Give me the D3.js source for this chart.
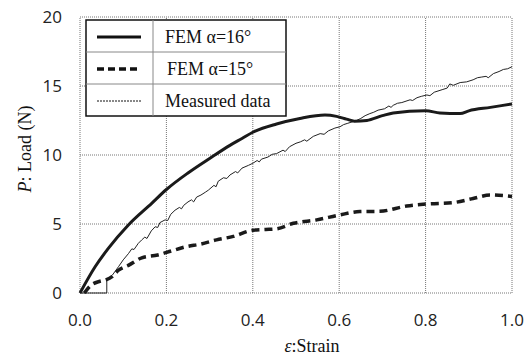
<!DOCTYPE html>
<html>
<head>
<meta charset="utf-8">
<script src="https://cdn.jsdelivr.net/npm/d3@7"></script>
<style>
  body { margin: 0; background: #fff; }
  .tick-label { font-family: "Open Sans", sans-serif; font-size: 17px; fill: #222; }
  .serif { font-family: "Liberation Serif", "DejaVu Serif", serif; fill: #111; }
</style>
</head>
<body>
<div id="chart"></div>
<script>
// tick values
const xTicks = [0, 0.2, 0.4, 0.6, 0.8, 1.0];
const yTicks = [0, 5, 10, 15, 20];

// series: [strain, load]
const fem16 = [[0,0],[0.035,1.9],[0.066,3.25],[0.112,4.93],[0.166,6.5],[0.2,7.5],
  [0.25,8.7],[0.3,9.75],[0.347,10.7],[0.375,11.2],[0.4,11.65],[0.455,12.25],[0.509,12.65],[0.567,12.9],
  [0.594,12.8],[0.617,12.6],[0.635,12.45],[0.664,12.5],[0.7,12.85],[0.725,13.05],[0.8,13.2],[0.833,13.05],
  [0.88,13.0],[0.9,13.2],[0.95,13.45],[1.0,13.7]];

const fem15 = [[0.01,0],[0.025,0.55],[0.046,0.85],[0.06,0.95],[0.075,1.2],[0.089,1.65],[0.112,2.0],
  [0.143,2.55],[0.18,2.75],[0.212,3.05],[0.245,3.35],[0.28,3.55],[0.316,3.85],[0.355,4.1],[0.4,4.55],
  [0.43,4.6],[0.455,4.65],[0.494,5.05],[0.548,5.3],[0.6,5.65],[0.648,5.9],[0.694,5.92],[0.756,6.3],
  [0.803,6.45],[0.864,6.55],[0.91,6.85],[0.949,7.1],[1.0,7.0]];

const measured = [[0,0],[0.062,0],[0.062,0.94],[0.075,1.3],[0.089,1.9],[0.1,2.4],[0.112,2.85],[0.12,3.2],
  [0.125,3.15],[0.135,3.6],[0.143,3.85],[0.15,4.05],[0.155,3.95],[0.165,4.5],[0.174,4.8],[0.18,4.75],
  [0.185,5.1],[0.197,5.3],[0.203,5.25],[0.21,5.7],[0.22,6.0],[0.23,6.2],[0.235,6.1],[0.24,6.35],[0.25,6.6],
  [0.258,6.75],[0.263,6.6],[0.27,6.95],[0.28,7.1],[0.29,7.3],[0.297,7.45],[0.31,7.8],[0.315,7.7],[0.32,8.1],
  [0.332,8.35],[0.34,8.3],[0.347,8.55],[0.36,8.8],[0.365,8.7],[0.375,9.05],[0.39,9.25],[0.4,9.4],[0.41,9.6],
  [0.415,9.5],[0.42,9.7],[0.435,9.85],[0.445,10.05],[0.455,10.1],[0.47,10.35],[0.475,10.25],[0.485,10.6],
  [0.5,10.85],[0.51,10.95],[0.52,11.1],[0.525,11.0],[0.54,11.35],[0.556,11.55],[0.565,11.5],[0.575,11.75],
  [0.59,11.95],[0.602,12.05],[0.61,12.2],[0.62,12.3],[0.63,12.4],[0.64,12.5],[0.65,12.65],[0.66,12.85],
  [0.671,13.0],[0.68,13.1],[0.69,13.25],[0.705,13.35],[0.715,13.55],[0.72,13.45],[0.725,13.6],[0.735,13.75],
  [0.745,13.8],[0.764,14.0],[0.77,13.95],[0.78,14.15],[0.79,14.25],[0.803,14.35],[0.81,14.3],[0.82,14.55],
  [0.84,14.75],[0.85,14.85],[0.856,15.15],[0.864,15.05],[0.88,15.25],[0.895,15.3],[0.91,15.45],[0.92,15.6],
  [0.93,15.65],[0.94,15.7],[0.945,15.6],[0.957,15.9],[0.97,16.05],[0.98,16.2],[0.99,16.25],[1.0,16.4]];

const legendItems = ["FEM α=16°", "FEM α=15°", "Measured data"];

const width = 529, height = 358;
const margin = {top: 17, right: 17, bottom: 65, left: 80};

const svg = d3.select("#chart").append("svg")
    .attr("width", width)
    .attr("height", height);

const x = d3.scaleLinear().domain([0, 1]).range([margin.left, width - margin.right]);
const y = d3.scaleLinear().domain([0, 20]).range([height - margin.bottom, margin.top]);

// grid (dotted, also forms the frame)
svg.append("g").selectAll("line.vg")
    .data(xTicks)
    .join("line")
      .attr("x1", d => x(d)).attr("x2", d => x(d))
      .attr("y1", y(0)).attr("y2", y(20))
      .attr("stroke", "#777").attr("stroke-width", 1)
      .attr("stroke-dasharray", "1,1");

svg.append("g").selectAll("line.hg")
    .data(yTicks)
    .join("line")
      .attr("x1", x(0)).attr("x2", x(1))
      .attr("y1", d => y(d)).attr("y2", d => y(d))
      .attr("stroke", "#777").attr("stroke-width", 1)
      .attr("stroke-dasharray", "1,1");

// tick labels
svg.append("g").selectAll("text")
    .data(xTicks)
    .join("text")
      .attr("class", "tick-label")
      .attr("x", d => x(d))
      .attr("y", y(0) + 33)
      .attr("text-anchor", "middle")
      .text(d => d3.format(".1f")(d));

svg.append("g").selectAll("text")
    .data(yTicks)
    .join("text")
      .attr("class", "tick-label")
      .attr("x", x(0) - 18)
      .attr("y", d => y(d))
      .attr("dy", "0.36em")
      .attr("text-anchor", "end")
      .text(d => d);

// curves
const line = d3.line().x(d => x(d[0])).y(d => y(d[1]));
const smooth = d3.line().x(d => x(d[0])).y(d => y(d[1])).curve(d3.curveMonotoneX);

svg.append("path")
    .datum(measured)
    .attr("d", line)
    .attr("fill", "none")
    .attr("stroke", "#222")
    .attr("stroke-width", 1);

svg.append("path")
    .datum(fem15)
    .attr("d", smooth)
    .attr("fill", "none")
    .attr("stroke", "#1a1a1a")
    .attr("stroke-width", 3.5)
    .attr("stroke-dasharray", "8,5");

svg.append("path")
    .datum(fem16)
    .attr("d", smooth)
    .attr("fill", "none")
    .attr("stroke", "#1a1a1a")
    .attr("stroke-width", 3);

// legend
const lg = svg.append("g");
const lx = 86, ly = 20, lw = 200, rowH = 32;
lg.append("rect")
    .attr("x", lx).attr("y", ly)
    .attr("width", lw).attr("height", rowH * 3)
    .attr("fill", "#fff")
    .attr("stroke", "#111").attr("stroke-width", 1.5);
lg.selectAll("line.div")
    .data([1, 2])
    .join("line")
      .attr("x1", lx).attr("x2", lx + lw)
      .attr("y1", d => ly + d * rowH).attr("y2", d => ly + d * rowH)
      .attr("stroke", "#888").attr("stroke-width", 1);
lg.append("line")
    .attr("x1", lx + 67).attr("x2", lx + 67)
    .attr("y1", ly).attr("y2", ly + rowH * 3)
    .attr("stroke", "#888").attr("stroke-width", 1);

const sampleStyles = [
  {w: 3, dash: null},
  {w: 3.5, dash: "7,4"},
  {w: 1, dash: "2,1"}
];
lg.selectAll("line.sample")
    .data(sampleStyles)
    .join("line")
      .attr("x1", lx + 11).attr("x2", lx + 55)
      .attr("y1", (d, i) => ly + i * rowH + rowH / 2 + 1)
      .attr("y2", (d, i) => ly + i * rowH + rowH / 2 + 1)
      .attr("stroke", "#111")
      .attr("stroke-width", d => d.w)
      .attr("stroke-dasharray", d => d.dash);

lg.selectAll("text")
    .data(legendItems)
    .join("text")
      .attr("class", "serif")
      .attr("x", (d, i) => lx + 79 + (i === 1 ? 2 : 0))
      .attr("y", (d, i) => ly + i * rowH + rowH / 2 + 7)
      .style("font-size", "18px")
      .text(d => d);

// axis titles
const xt = svg.append("text")
    .attr("class", "serif")
    .attr("x", 312)
    .attr("y", 352)
    .attr("text-anchor", "middle")
    .style("font-size", "18px");
xt.append("tspan").style("font-style", "italic").text("ε");
xt.append("tspan").text(":Strain");

const yt = svg.append("text")
    .attr("class", "serif")
    .attr("transform", `translate(31,${y(10) - 6}) rotate(-90)`)
    .attr("text-anchor", "middle")
    .style("font-size", "18px");
yt.append("tspan").style("font-style", "italic").text("P");
yt.append("tspan").text(": Load (N)");
</script>
</body>
</html>
